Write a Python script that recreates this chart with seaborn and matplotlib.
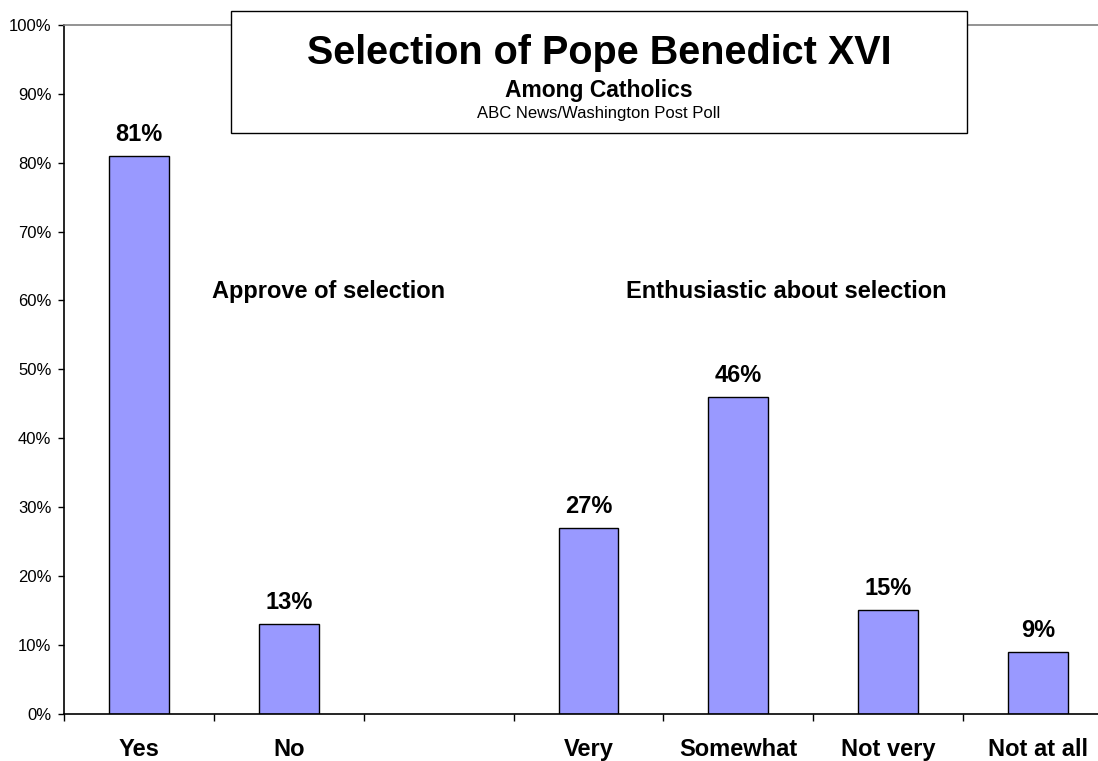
import matplotlib
matplotlib.use("Agg")
import matplotlib.pyplot as plt
import matplotlib.patches as patches
import pandas as pd
import seaborn as sns

# -----------------------------
# Data
# -----------------------------
categories = ["Yes", "No", "Very", "Somewhat", "Not very", "Not at all"]
percent = [81, 13, 27, 46, 15, 9]
# blank slot between the two question groups
order = ["Yes", "No", " ", "Very", "Somewhat", "Not very", "Not at all"]
tick_labels = ["Yes", "No", "", "Very", "Somewhat", "Not very", "Not at all"]
y_ticks = [0, 10, 20, 30, 40, 50, 60, 70, 80, 90, 100]
group_labels = ["Approve of selection", "Enthusiastic about selection"]

title = "Selection of Pope Benedict XVI"
subtitle = "Among Catholics"
source = "ABC News/Washington Post Poll"

BAR_COLOR = "#9999FF"

# -----------------------------
# Plot
# -----------------------------
sns.set_style("white")
plt.rcParams["font.family"] = ["Liberation Sans", "DejaVu Sans"]
plt.rcParams["text.color"] = "black"
plt.rcParams["xtick.color"] = "black"
plt.rcParams["ytick.color"] = "black"
plt.rcParams["axes.labelcolor"] = "black"

df = pd.DataFrame({"response": categories, "pct": percent})

W, H = 1098, 761
fig = plt.figure(figsize=(W / 100, H / 100), dpi=100)
ax = fig.add_axes([64 / W, (H - 713.5) / H, (1113 - 64) / W, 688.5 / H])

sns.barplot(data=df, x="response", y="pct", order=order, color=BAR_COLOR,
            saturation=1, edgecolor="black", linewidth=1, width=0.4, ax=ax)

ax.set_xlim(-0.5, len(order) - 0.5)
ax.set_ylim(0, 100)
ax.set_xlabel("")
ax.set_ylabel("")

# y axis
ax.set_yticks(y_ticks)
ax.set_yticklabels([f"{v}%" for v in y_ticks], fontsize=12)
ax.tick_params(axis="y", direction="out", length=4, width=1, colors="black", pad=5, left=True)

# x axis: labels at centres, tick marks at slot boundaries
ax.set_xticks(range(len(order)))
ax.set_xticklabels(tick_labels, fontsize=17, fontweight="bold")
ax.tick_params(axis="x", which="major", length=0, pad=30.5, labelcolor="black")
for lbl in ax.get_xticklabels():
    lbl.set_verticalalignment("baseline")
ax.set_xticks([i - 0.5 for i in range(len(order) + 1)], minor=True)
ax.tick_params(axis="x", which="minor", direction="out", length=5, width=1,
               color="black", bottom=True)

for side in ["left", "bottom"]:
    ax.spines[side].set_color("black")
    ax.spines[side].set_linewidth(1.2)
ax.spines["top"].set_color("#808080")
ax.spines["top"].set_linewidth(1.2)
ax.spines["right"].set_visible(False)

# value labels
for cat, val in zip(categories, percent):
    ax.annotate(f"{val}%", xy=(order.index(cat), val), xytext=(0, 10.8),
                textcoords="offset points", ha="center", va="baseline",
                fontsize=17, fontweight="bold", color="black")

# group labels
ax.text(0.487, 60.35, group_labels[0], ha="left", va="baseline",
        fontsize=17, fontweight="bold", color="black")
ax.text(3.247, 60.35, group_labels[1], ha="left", va="baseline",
        fontsize=17, fontweight="bold", color="black")

# title box
box = patches.Rectangle((231 / W, 1 - 133 / H), (967 - 231) / W, 122 / H,
                        transform=fig.transFigure, facecolor="white",
                        edgecolor="black", linewidth=1, zorder=5)
fig.add_artist(box)
fig.text(599 / W, 1 - 64 / H, title, ha="center", va="baseline",
         fontsize=28.5, fontweight="bold", color="black", zorder=6)
fig.text(599 / W, 1 - 97 / H, subtitle, ha="center", va="baseline",
         fontsize=16.5, fontweight="bold", color="black", zorder=6)
fig.text(599 / W, 1 - 118 / H, source, ha="center", va="baseline",
         fontsize=12, color="black", zorder=6)

fig.savefig("out.png", dpi=100)
